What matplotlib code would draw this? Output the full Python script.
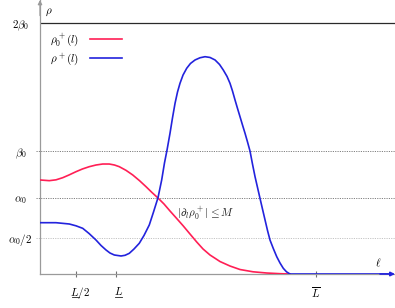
import matplotlib
matplotlib.use("Agg")
import matplotlib.pyplot as plt
from matplotlib.lines import Line2D
from matplotlib.transforms import ScaledTranslation

plt.rcParams['mathtext.fontset'] = 'cm'
plt.rcParams['font.family'] = ['DejaVu Sans']

# DATOS (x en unidades de L, y en unidades de alpha0)
red_x = [0.05, 0.166, 0.25, 0.334, 0.413, 0.5, 0.581, 0.666, 0.75, 0.834, 0.916, 0.981,
         1.041, 1.125, 1.209, 1.294, 1.375, 1.45, 1.525, 1.6, 1.675, 1.759, 1.841, 1.925,
         2.009, 2.088, 2.175, 2.238, 2.3, 2.425, 2.55, 2.713, 2.884, 3.05, 3.175]
red_y = [1.237, 1.228, 1.239, 1.267, 1.303, 1.346, 1.382, 1.412, 1.434, 1.447, 1.447, 1.434,
         1.412, 1.364, 1.303, 1.228, 1.149, 1.072, 1.0, 0.921, 0.829, 0.730, 0.632, 0.526,
         0.421, 0.329, 0.25, 0.207, 0.164, 0.105, 0.059, 0.029, 0.013, 0.004, 0.0]

blue_x = [0.05, 0.25, 0.416, 0.5, 0.584, 0.663, 0.75, 0.813, 0.875, 0.925, 0.979, 1.063,
          1.113, 1.166, 1.225, 1.291, 1.35, 1.416, 1.469, 1.525, 1.571, 1.606, 1.638, 1.675,
          1.706, 1.738, 1.769, 1.8, 1.838, 1.884, 1.931, 1.988, 2.05, 2.113, 2.175, 2.238,
          2.294, 2.341, 2.388, 2.425, 2.456, 2.488, 2.519, 2.55, 2.581, 2.613, 2.644, 2.675,
          2.706, 2.738, 2.769, 2.8, 2.831, 2.863, 2.894, 2.925, 2.966, 3.009, 3.05, 3.091,
          3.131, 3.175, 4.40]
blue_y = [0.675, 0.675, 0.658, 0.634, 0.601, 0.533, 0.447, 0.375, 0.316, 0.276, 0.25, 0.237,
          0.246, 0.272, 0.329, 0.404, 0.507, 0.645, 0.816, 1.004, 1.237, 1.461, 1.632, 1.851,
          2.053, 2.246, 2.395, 2.509, 2.618, 2.707, 2.77, 2.816, 2.845, 2.859, 2.849, 2.816,
          2.757, 2.684, 2.599, 2.509, 2.408, 2.289, 2.178, 2.07, 1.961, 1.851, 1.737, 1.618,
          1.447, 1.28, 1.138, 0.996, 0.855, 0.711, 0.572, 0.447, 0.336, 0.228, 0.145, 0.075,
          0.029, 0.0, 0.0]

xtick_vals = [0.5, 1.0, 3.5]
xtick_labels = [r'$L/2$', r'$L$', r'$\overline{L}$']
ytick_vals = [0.474, 1.0, 1.618, 3.30]
ytick_labels = [r'$\alpha_0/2$', r'$\alpha_0$', r'$\beta_0$', r'$2\beta_0$']

rojo = '#ff1f55'
azul = '#2323dd'
gris = '#9a9a9a'

W, H = 395, 308
fig = plt.figure(figsize=(W / 100, H / 100), dpi=100)
ax = fig.add_axes([40 / W, (H - 274) / H, 355 / W, 274 / H])
ax.set_xlim(0.05, 4.4875)
ax.set_ylim(0, 3.605)

for s in ['top', 'right']:
    ax.spines[s].set_visible(False)
for s in ['left', 'bottom']:
    ax.spines[s].set_color(gris)
    ax.spines[s].set_linewidth(0.9)

# lineas de referencia
ax.axhline(ytick_vals[0], xmin=-0.012, color='#c4c4c4', ls=(0, (1.2, 1.2)), lw=0.7, clip_on=False)
ax.axhline(ytick_vals[1], xmin=-0.012, color='#808080', ls=(0, (1.2, 1.2)), lw=0.7, clip_on=False)
ax.axhline(ytick_vals[2], xmin=-0.012, color='#808080', ls=(0, (1.2, 1.2)), lw=0.7, clip_on=False)
ax.axhline(ytick_vals[3], color='#2a2a2a', lw=0.9)

# curvas
ax.plot(red_x, red_y, color=rojo, lw=1.2, label=r'$\rho_0^+(l)$', zorder=3)
ax.plot(blue_x, blue_y, color=azul, lw=1.2, label=r'$\rho^+(l)$', zorder=4)

# flechas de los ejes
ax.annotate('', xy=(4.4875, 0), xytext=(4.3, 0),
            arrowprops=dict(arrowstyle='-|>', color=azul, lw=1.2, mutation_scale=6,
                            shrinkA=0, shrinkB=0), annotation_clip=False, zorder=5)
ax.annotate('', xy=(0.05, 3.605), xytext=(0.05, 3.4),
            arrowprops=dict(arrowstyle='-|>', color=gris, lw=0.9, mutation_scale=6,
                            shrinkA=0, shrinkB=0), annotation_clip=False)

# ticks
ax.set_xticks(xtick_vals)
ax.set_xticklabels(xtick_labels, fontsize=8)
ax.tick_params(axis='x', direction='inout', length=4.5, width=0.8, color='#707070', pad=6)
for lab, dx in zip(ax.get_xticklabels(), [4, 3, 0]):
    lab.set_transform(lab.get_transform() + ScaledTranslation(dx / 100, 0, fig.dpi_scale_trans))
ax.set_yticks(ytick_vals)
ax.set_yticklabels(ytick_labels, fontsize=8, ha='center')
ax.tick_params(axis='y', length=0, pad=14)

# subrayados de L
for x0, x1 in [(72, 79), (115, 122)]:
    fig.add_artist(Line2D([x0 / W, x1 / W], [1 - 297 / H, 1 - 297 / H], color='#222', lw=0.6))

# textos
ax.text(0.16, 3.447, r'$\rho$', fontsize=8, ha='center', va='center')
ax.text(4.275, 0.145, r'$\ell$', fontsize=8, ha='center', va='center')
ax.text(2.125, 0.803, r'$|\partial_l\rho_0^+|\leq M$', fontsize=8, ha='center', va='center',
        color='#222')

ax.legend(loc='upper left', bbox_to_anchor=(50 / W, 1 - 31 / H), bbox_transform=fig.transFigure,
          frameon=False, markerfirst=False, fontsize=8, handlelength=2.9,
          handletextpad=1.0, labelspacing=0.25, borderpad=0, borderaxespad=0)

fig.savefig('out.png', dpi=100)
